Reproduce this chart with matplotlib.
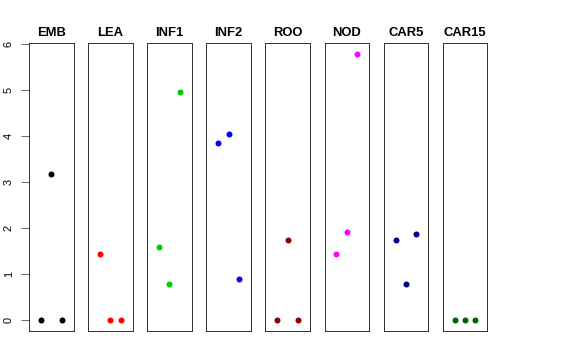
import matplotlib
matplotlib.use("Agg")
import matplotlib.pyplot as plt

plt.rcParams["font.family"] = ["Liberation Sans", "DejaVu Sans"]

# tissues (panel titles) and point colours
tissues = ["EMB", "LEA", "INF1", "INF2", "ROO", "NOD", "CAR5", "CAR15"]
colors = ["black", "red", "#00CD00", "blue", "#8B0000", "magenta", "#00008B", "#006400"]

# three replicate values per tissue
rep_x = [1, 2, 3]
values = [
    [0.0, 3.17, 0.0],
    [1.45, 0.0, 0.0],
    [1.60, 0.80, 4.96],
    [3.85, 4.05, 0.89],
    [0.0, 1.74, 0.0],
    [1.45, 1.93, 5.79],
    [1.75, 0.79, 1.87],
    [0.0, 0.0, 0.0],
]

W, H = 576, 360
fig = plt.figure(figsize=(W / 72, H / 72), dpi=72)

left0, pitch, pw = 29, 59.1, 44.5
top, bottom = 43.3, 331
ymax = max(max(v) for v in values)
pad = 0.04 * ymax

for i, (name, col, vals) in enumerate(zip(tissues, colors, values)):
    ax = fig.add_axes([(left0 + pitch * i) / W, 1 - bottom / H, pw / W, (bottom - top) / H])
    ax.plot(rep_x, vals, "o", color=col, markersize=6, markeredgewidth=0)
    ax.set_xlim(-0.16, 4.16)
    ax.set_ylim(-pad, ymax + pad)
    ax.set_xticks([])
    for s in ax.spines.values():
        s.set_linewidth(0.9)
        s.set_color("#222222")
    ax.set_title(name, fontsize=13, fontweight="bold", pad=7)
    if i == 0:
        ax.set_yticks(range(0, 7))
        ax.tick_params(axis="y", length=8, width=0.8, labelsize=11, pad=7, color="#444444")
        for lab in ax.get_yticklabels():
            lab.set_rotation(90)
            lab.set_va("center")
    else:
        ax.set_yticks([])

fig.savefig("out.png", dpi=72)
